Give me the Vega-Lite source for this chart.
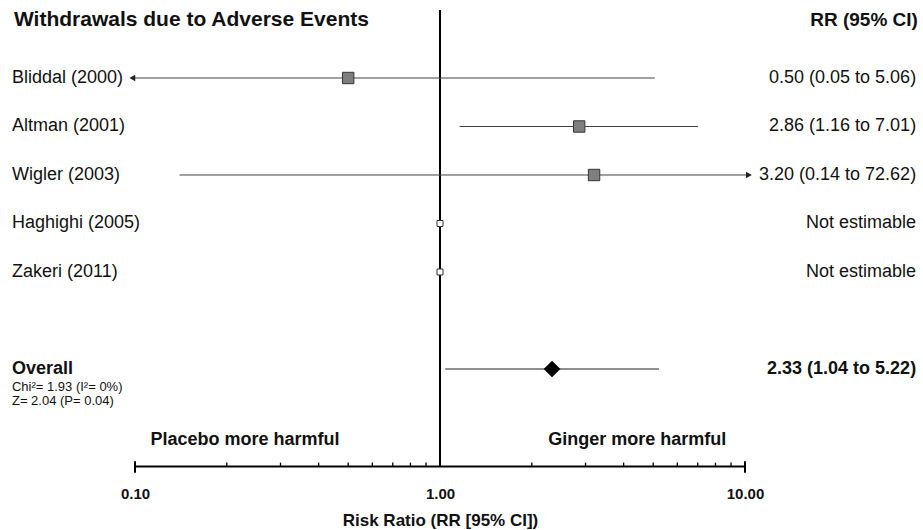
{
  "$schema": "https://vega.github.io/schema/vega-lite/v6.json",
  "width": 610,
  "height": 456,
  "autosize": {"type": "none"},
  "padding": {"left": 135, "right": 178, "top": 10, "bottom": 64},
  "background": "white",
  "config": {"view": {"stroke": null}, "font": "Liberation Sans", "text": {"font": "Liberation Sans", "color": "#111"}},
  "data": {"name": "overall"},
  "datasets": {
    "studies": [
      {"study": "Bliddal (2000)", "row": 1, "rr": 0.50, "lo": 0.098, "hi": 5.06, "ci": "0.50 (0.05 to 5.06)", "estimable": "yes", "arrow": "left"},
      {"study": "Altman (2001)", "row": 2, "rr": 2.86, "lo": 1.16, "hi": 7.01, "ci": "2.86 (1.16 to 7.01)", "estimable": "yes", "arrow": "none"},
      {"study": "Wigler (2003)", "row": 3, "rr": 3.20, "lo": 0.14, "hi": 10.3, "ci": "3.20 (0.14 to 72.62)", "estimable": "yes", "arrow": "right"},
      {"study": "Haghighi (2005)", "row": 4, "rr": 1, "ci": "Not estimable", "estimable": "no", "arrow": "none"},
      {"study": "Zakeri (2011)", "row": 5, "rr": 1, "ci": "Not estimable", "estimable": "no", "arrow": "none"}
    ],
    "overall": [
      {"label": "Overall", "row": 7, "rr": 2.33, "lo": 1.04, "hi": 5.22, "ci": "2.33 (1.04 to 5.22)", "chi2": "Chi²= 1.93 (I²= 0%)", "z": "Z= 2.04 (P= 0.04)"}
    ],
    "ticks": [
      {"v": 0.2, "kind": "minor"}, {"v": 0.3, "kind": "minor"}, {"v": 0.4, "kind": "minor"}, {"v": 0.5, "kind": "minor"},
      {"v": 0.6, "kind": "minor"}, {"v": 0.7, "kind": "minor"}, {"v": 0.8, "kind": "minor"}, {"v": 0.9, "kind": "minor"},
      {"v": 2, "kind": "minor"}, {"v": 3, "kind": "minor"}, {"v": 4, "kind": "minor"}, {"v": 5, "kind": "minor"},
      {"v": 6, "kind": "minor"}, {"v": 7, "kind": "minor"}, {"v": 8, "kind": "minor"}, {"v": 9, "kind": "minor"},
      {"v": 0.1, "kind": "end"}, {"v": 10, "kind": "end"}
    ]
  },
  "layer": [
    {
      "data": {"name": "ticks"},
      "transform": [{"filter": "datum.kind == 'minor'"}],
      "mark": {"type": "rule", "color": "black", "strokeWidth": 1.3},
      "encoding": {
        "x": {"field": "v", "type": "quantitative",
          "scale": {"type": "log", "domain": [0.1, 10], "nice": false},
          "axis": {"values": [0.1, 1, 10], "format": ".2f", "ticks": false, "domain": true, "domainColor": "black", "domainWidth": 2,
            "grid": false, "labelFont": "Liberation Sans", "labelFontSize": 15, "labelFontWeight": "bold", "labelColor": "#111",
            "labelPadding": 20, "labelFlush": false,
            "title": "Risk Ratio (RR [95% CI])", "titleFont": "Liberation Sans", "titleFontSize": 17, "titleFontWeight": "bold",
            "titleColor": "#111", "titlePadding": 11}},
        "y": {"datum": 9, "type": "quantitative", "scale": {"domain": [-0.402, 9], "reverse": true, "nice": false, "zero": false}, "axis": null},
        "y2": {"datum": 8.93}
      }
    },
    {
      "data": {"name": "ticks"},
      "transform": [{"filter": "datum.kind == 'end'"}],
      "mark": {"type": "rule", "color": "black", "strokeWidth": 2},
      "encoding": {
        "x": {"field": "v", "type": "quantitative"},
        "y": {"datum": 9.14, "type": "quantitative"},
        "y2": {"datum": 8.9}
      }
    },
    {
      "mark": {"type": "rule", "color": "black", "strokeWidth": 2},
      "encoding": {"x": {"datum": 1, "type": "quantitative"}}
    },
    {
      "data": {"name": "studies"},
      "transform": [{"filter": "datum.estimable == 'yes'"}],
      "mark": {"type": "rule", "color": "#444", "strokeWidth": 1.2},
      "encoding": {
        "x": {"field": "lo", "type": "quantitative"},
        "x2": {"field": "hi"},
        "y": {"field": "row", "type": "quantitative"}
      }
    },
    {
      "data": {"name": "studies"},
      "transform": [{"filter": "datum.arrow == 'left'"}],
      "mark": {"type": "point", "shape": "triangle-left", "filled": true, "color": "#222", "size": 45, "opacity": 1},
      "encoding": {
        "x": {"field": "lo", "type": "quantitative"},
        "y": {"field": "row", "type": "quantitative"}
      }
    },
    {
      "data": {"name": "studies"},
      "transform": [{"filter": "datum.arrow == 'right'"}],
      "mark": {"type": "point", "shape": "triangle-right", "filled": true, "color": "#222", "size": 45, "opacity": 1},
      "encoding": {
        "x": {"field": "hi", "type": "quantitative"},
        "y": {"field": "row", "type": "quantitative"}
      }
    },
    {
      "data": {"name": "studies"},
      "transform": [{"filter": "datum.estimable == 'yes'"}],
      "mark": {"type": "square", "fill": "#7f7f7f", "stroke": "#333", "strokeWidth": 1, "size": 130, "opacity": 1},
      "encoding": {
        "x": {"field": "rr", "type": "quantitative"},
        "y": {"field": "row", "type": "quantitative"}
      }
    },
    {
      "data": {"name": "studies"},
      "transform": [{"filter": "datum.estimable == 'no'"}],
      "mark": {"type": "square", "fill": "white", "stroke": "#333", "strokeWidth": 1, "size": 36, "opacity": 1},
      "encoding": {
        "x": {"field": "rr", "type": "quantitative"},
        "y": {"field": "row", "type": "quantitative"}
      }
    },
    {
      "mark": {"type": "rule", "color": "#222", "strokeWidth": 1.2},
      "encoding": {
        "x": {"field": "lo", "type": "quantitative"},
        "x2": {"field": "hi"},
        "y": {"field": "row", "type": "quantitative"}
      }
    },
    {
      "mark": {"type": "point", "shape": "diamond", "filled": true, "color": "black", "size": 280, "opacity": 1},
      "encoding": {
        "x": {"field": "rr", "type": "quantitative"},
        "y": {"field": "row", "type": "quantitative"}
      }
    },
    {
      "data": {"name": "studies"},
      "mark": {"type": "text", "align": "left", "baseline": "middle", "fontSize": 18},
      "encoding": {
        "x": {"datum": 0.0395, "type": "quantitative"},
        "y": {"field": "row", "type": "quantitative"},
        "text": {"field": "study"}
      }
    },
    {
      "data": {"name": "studies"},
      "mark": {"type": "text", "align": "right", "baseline": "middle", "fontSize": 18},
      "encoding": {
        "x": {"datum": 36.4, "type": "quantitative"},
        "y": {"field": "row", "type": "quantitative"},
        "text": {"field": "ci"}
      }
    },
    {
      "mark": {"type": "text", "align": "left", "baseline": "middle", "fontSize": 18, "fontWeight": "bold"},
      "encoding": {
        "x": {"datum": 0.0395, "type": "quantitative"},
        "y": {"field": "row", "type": "quantitative"},
        "text": {"field": "label"}
      }
    },
    {
      "mark": {"type": "text", "align": "right", "baseline": "middle", "fontSize": 18, "fontWeight": "bold"},
      "encoding": {
        "x": {"datum": 36.4, "type": "quantitative"},
        "y": {"field": "row", "type": "quantitative"},
        "text": {"field": "ci"}
      }
    },
    {
      "mark": {"type": "text", "align": "left", "baseline": "middle", "fontSize": 13},
      "encoding": {
        "x": {"datum": 0.0395, "type": "quantitative"},
        "y": {"datum": 7.37, "type": "quantitative"},
        "text": {"field": "chi2"}
      }
    },
    {
      "mark": {"type": "text", "align": "left", "baseline": "middle", "fontSize": 13},
      "encoding": {
        "x": {"datum": 0.0395, "type": "quantitative"},
        "y": {"datum": 7.66, "type": "quantitative"},
        "text": {"field": "z"}
      }
    },
    {
      "mark": {"type": "text", "align": "left", "baseline": "middle", "fontSize": 21, "fontWeight": "bold", "text": "Withdrawals due to Adverse Events"},
      "encoding": {
        "x": {"datum": 0.0401, "type": "quantitative"},
        "y": {"datum": -0.2, "type": "quantitative"}
      }
    },
    {
      "mark": {"type": "text", "align": "right", "baseline": "middle", "fontSize": 19, "fontWeight": "bold", "text": "RR (95% CI)"},
      "encoding": {
        "x": {"datum": 36.9, "type": "quantitative"},
        "y": {"datum": -0.2, "type": "quantitative"}
      }
    },
    {
      "mark": {"type": "text", "align": "center", "baseline": "middle", "fontSize": 18, "fontWeight": "bold", "text": "Placebo more harmful"},
      "encoding": {
        "x": {"datum": 0.2295, "type": "quantitative"},
        "y": {"datum": 8.47, "type": "quantitative"}
      }
    },
    {
      "mark": {"type": "text", "align": "center", "baseline": "middle", "fontSize": 18, "fontWeight": "bold", "text": "Ginger more harmful"},
      "encoding": {
        "x": {"datum": 4.43, "type": "quantitative"},
        "y": {"datum": 8.47, "type": "quantitative"}
      }
    }
  ]
}
